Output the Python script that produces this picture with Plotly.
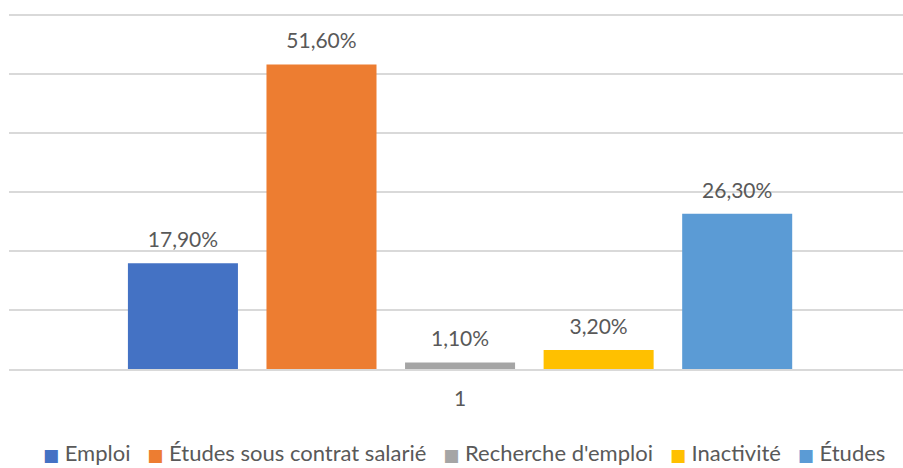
import plotly.graph_objects as go

categories = ["1"]
series_names = ["Emploi", "Études sous contrat salarié", "Recherche d'emploi", "Inactivité", "Études"]
series_values = [17.9, 51.6, 1.1, 3.2, 26.3]
series_colors = ["#4472C4", "#ED7D31", "#A5A5A5", "#FFC000", "#5B9BD5"]

FONT = "Lato, 'Open Sans', sans-serif"
TXT = "#595959"

fig = go.Figure()
for i, (name, val, col) in enumerate(zip(series_names, series_values, series_colors)):
    fig.add_trace(go.Bar(
        x=categories, y=[val], name=name, marker_color=col, marker_line_width=0,
        offsetgroup=str(i), showlegend=False,
    ))
for i, (name, val) in enumerate(zip(series_names, series_values)):
    fig.add_trace(go.Scatter(
        x=categories, y=[val], mode="markers+text", offsetgroup=str(i),
        text=[f"{val:.2f}".replace(".", ",") + "%"], textposition="top center",
        textfont=dict(family=FONT, size=21, color=TXT),
        marker=dict(size=16, color="rgba(0,0,0,0)"), cliponaxis=False,
        showlegend=False, hoverinfo="skip",
    ))

legend_parts = [
    f'<span style="color:{c};font-family:DejaVu Sans;font-size:17px">■</span>\u00a0{n}'
    for n, c in zip(series_names, series_colors)
]
fig.add_annotation(
    text="\u00a0\u00a0\u00a0".join(legend_parts), xref="paper", yref="paper",
    x=0.509, y=-0.232, xanchor="center", yanchor="middle", showarrow=False,
    font=dict(family=FONT, size=22, color=TXT),
)

fig.update_layout(
    width=903, height=468,
    margin=dict(l=9, r=0, t=9, b=99, autoexpand=False),
    paper_bgcolor="white", plot_bgcolor="white",
    barmode="group", bargap=0.232, bargroupgap=0.206,
    scattermode="group", scattergap=0.232,
    font=dict(family=FONT, color=TXT, size=21),
    showlegend=False,
    xaxis=dict(type="category", range=[-0.5, 0.491], showgrid=False, showline=True,
               linecolor="#D9D9D9", linewidth=1.5,
               ticks="", ticklabelstandoff=10, tickfont=dict(size=21, color=TXT)),
    yaxis=dict(range=[0, 61], tickvals=[0, 10, 20, 30, 40, 50, 60], showgrid=True,
               gridcolor="#D9D9D9", gridwidth=1.5,
               showticklabels=False, zeroline=False, ticks=""),
)

fig.write_html("out.html", config={"displayModeBar": False},
               post_script="document.body.style.margin='0';")
